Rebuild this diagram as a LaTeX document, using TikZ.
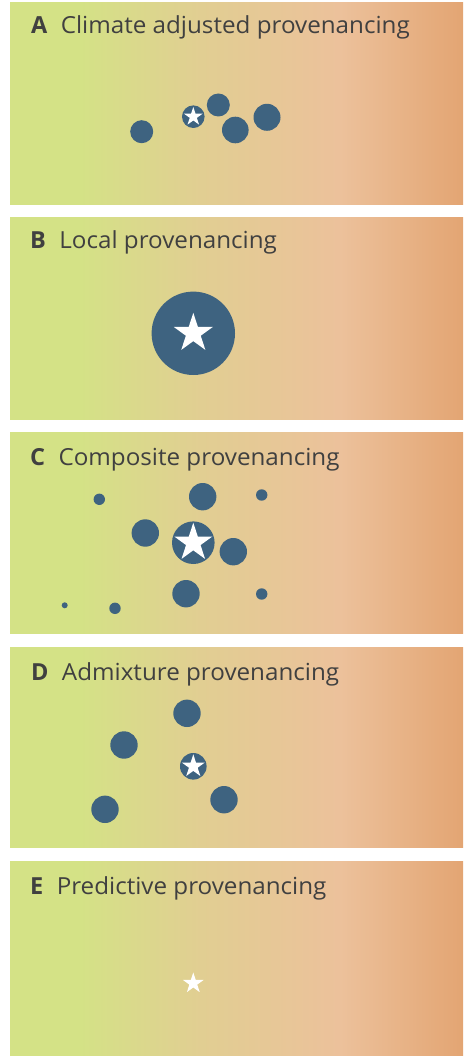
\documentclass[tikz,border=0pt]{standalone}
\usepackage{fontspec}
\setmainfont{Open Sans}
\usetikzlibrary{shapes.geometric}
\definecolor{cG}{RGB}{212,226,134}
\definecolor{cT}{RGB}{225,206,146}
\definecolor{cP}{RGB}{236,193,155}
\definecolor{cO}{RGB}{227,165,115}
\definecolor{dotblue}{RGB}{62,99,128}
\definecolor{txtgray}{RGB}{64,64,64}
\pgfdeclarehorizontalshading{panelshade}{100bp}{color(0bp)=(cG); color(32.7bp)=(cG); color(46bp)=(cT); color(61.4bp)=(cP); color(75bp)=(cO); color(100bp)=(cO)}
\begin{document}
\begin{tikzpicture}[x=1pt,y=-1pt,
  panel/.style={shading=panelshade, draw=none},
  lbl/.style={font=\fontsize{23.5}{27}\selectfont\bfseries, text=txtgray, inner sep=0pt, anchor=base west},
  ttl/.style={font=\fontsize{23.5}{27}\selectfont, text=txtgray, inner sep=0pt, anchor=base west},
  dot/.style={fill=dotblue},
  starshape/.style={star, star points=5, star point ratio=2.618, fill=white, draw=none, inner sep=0pt, minimum size=#1}
]
\useasboundingbox (0,0) rectangle (463,1056);
\fill[white] (0,0) rectangle (463,1056);
% panels
\shade[panel] (10,3) rectangle (463,205);
\shade[panel] (10,218) rectangle (463,419);
\shade[panel] (10,432) rectangle (463,633);
\shade[panel] (10,647) rectangle (463,847);
\shade[panel] (10,861) rectangle (463,1056);
% titles
\node[lbl] (la) at (31,34) {A};
\node[ttl] (ta) at ([xshift=13pt]la.base east) {\scalebox{1.03}[1]{Climate adjusted provenancing}};
\node[lbl] (lb) at (30,249) {B};
\node[ttl] (tb) at ([xshift=13pt]lb.base east) {\scalebox{1.03}[1]{Local provenancing}};
\node[lbl] (lc) at (30,465) {C};
\node[ttl] (tc) at ([xshift=13pt]lc.base east) {\scalebox{1.03}[1]{Composite provenancing}};
\node[lbl] (ld) at (31,680) {D};
\node[ttl] (td) at ([xshift=13pt]ld.base east) {\scalebox{1.03}[1]{Admixture provenancing}};
\node[lbl] (le) at (30,894) {E};
\node[ttl] (te) at ([xshift=13pt]le.base east) {\scalebox{1.03}[1]{Predictive provenancing}};
% panel A
\fill[dot] (141.7,131.7) circle (11.5);
\fill[dot] (193.3,116.7) circle (11.3);
\fill[dot] (218.3,105) circle (11.5);
\fill[dot] (235.3,130) circle (13.3);
\fill[dot] (267,117.3) circle (13.5);
\node[starshape=19.6] (sa) at (193.3,116.7) {};
% panel B
\fill[dot] (193.3,333.3) circle (41.7);
\node[starshape=41] (sb) at (193.3,333.3) {};
% panel C
\fill[dot] (99.3,499.3) circle (5.7);
\fill[dot] (202.7,496.7) circle (13.7);
\fill[dot] (261.7,495) circle (5.7);
\fill[dot] (145.3,533) circle (13.7);
\fill[dot] (193.3,542.7) circle (21.3);
\fill[dot] (233.3,551.7) circle (13.7);
\fill[dot] (186,593.7) circle (13.7);
\fill[dot] (261.7,594) circle (5.7);
\fill[dot] (64.7,605.3) circle (3);
\fill[dot] (115,608.3) circle (5.7);
\node[starshape=40] (sc) at (193.3,542.7) {};
% panel D
\fill[dot] (187,713.3) circle (13.7);
\fill[dot] (124,745) circle (13.7);
\fill[dot] (193.3,766.3) circle (13.3);
\fill[dot] (224,799.7) circle (13.7);
\fill[dot] (105,809.3) circle (13.7);
\node[starshape=24] (sd) at (193.3,766.3) {};
% panel E
\node[starshape=21.8] (se) at (193.3,983.3) {};
\end{tikzpicture}
\end{document}
